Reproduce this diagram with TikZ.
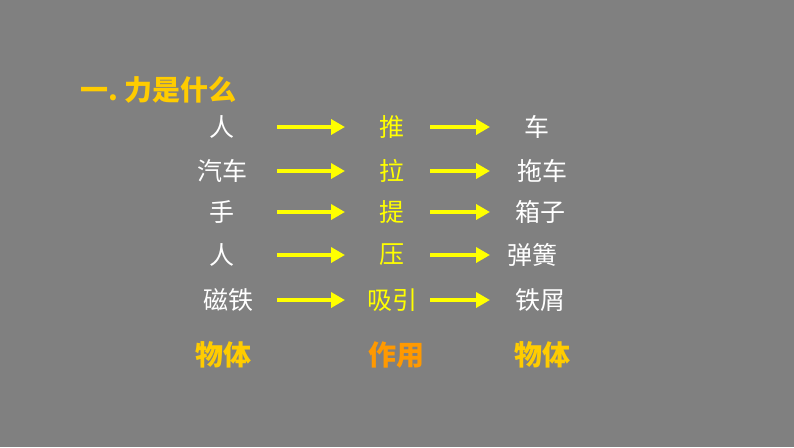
\documentclass[tikz,border=0pt]{standalone}
\usepackage{fontspec}
\newfontfamily\cjk{Noto Sans CJK SC}
\usetikzlibrary{arrows.meta}
\definecolor{bg}{RGB}{128,128,128}
\definecolor{ylw}{RGB}{255,255,0}
\definecolor{gold}{RGB}{255,204,0}
\definecolor{org}{RGB}{255,153,0}
\tikzset{
 wtext/.style={text=white,font=\cjk\fontsize{25pt}{27pt}\selectfont,inner sep=0pt},
 ytext/.style={wtext,text=ylw},
 lab/.style={font=\cjk\bfseries\fontsize{28pt}{30pt}\selectfont,inner sep=0pt},
 arr/.style={draw=ylw,line width=3.5pt,-{Triangle[length=14pt,width=15pt]}}
}
\begin{document}
\begin{tikzpicture}[x=1pt,y=-1pt]
\fill[bg] (0,0) rectangle (794,447);
\node[lab,text=gold,anchor=west] (t) at (80,90) {一.\hspace{6pt}力是什么};
\foreach \i/\yy/\a/\b/\c/\ax/\cx in {1/127/人/推/车/222/537, 2/171/汽车/拉/拖车/222/542, 3/212/手/提/箱子/222/540, 4/255/人/压/弹簧/222/532, 5/300/磁铁/吸引/铁屑/228/540}{
 \node[wtext] (a\i) at (\ax,\yy) {\a};
 \node[ytext] (b\i) at (392,\yy) {\b};
 \node[wtext] (c\i) at (\cx,\yy) {\c};
 \coordinate (p\i) at (277,\yy);
 \coordinate (q\i) at (345,\yy);
 \coordinate (r\i) at (430,\yy);
 \coordinate (s\i) at (490,\yy);
 \draw[arr] (p\i) -- (q\i);
 \draw[arr] (r\i) -- (s\i);
}
\node[lab,text=gold] (o1) at (223,355) {物体};
\node[lab,text=org] (zy) at (396,355) {作用};
\node[lab,text=gold] (o2) at (542,355) {物体};
\end{tikzpicture}
\end{document}
